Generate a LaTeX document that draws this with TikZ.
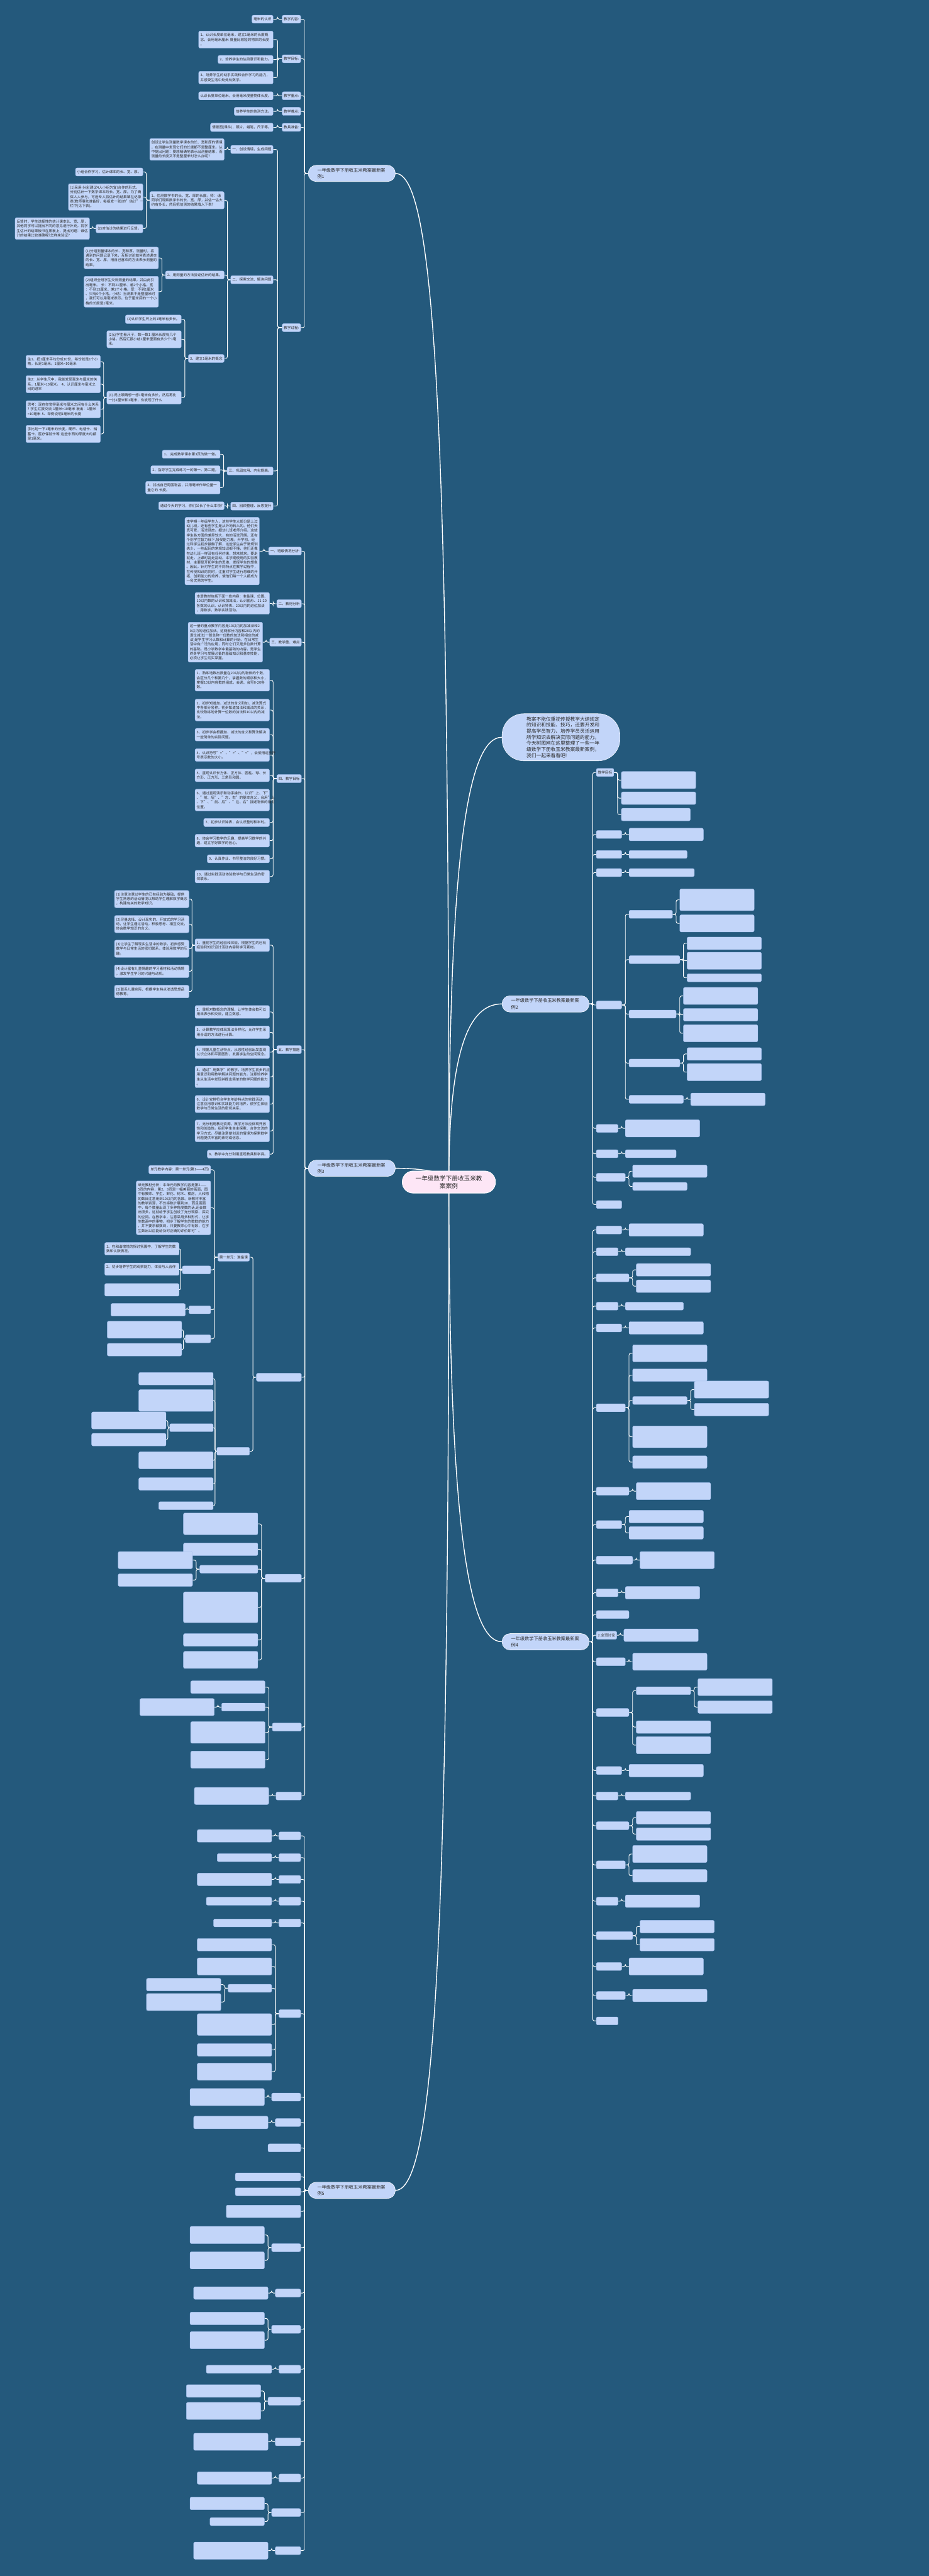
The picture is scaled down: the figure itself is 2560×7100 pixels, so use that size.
\documentclass[tikz,border=0pt]{standalone}
\usepackage{fontspec}
\setmainfont{Noto Sans CJK SC}
\usetikzlibrary{calc}
\definecolor{bgc}{HTML}{24597C}
\definecolor{leaff}{HTML}{C2D5F9}
\definecolor{leafd}{HTML}{A3BFEC}
\definecolor{cenf}{HTML}{FDE6F6}
\definecolor{txt}{HTML}{2A2A2A}
\pgfdeclarelayer{bg}\pgfdeclarelayer{edges}\pgfsetlayers{bg,edges,main}
\tikzset{
 leaf/.style={draw=leafd, line width=0.8pt, fill=leaff, rounded corners=4pt, inner xsep=4.5pt, inner ysep=6.5pt, font=\fontsize{9.8}{12.6}\selectfont, align=left, text=txt},
 wide/.style={text width=196pt},
 branch/.style={draw=white!85!leaff, line width=1pt, fill=leaff, rounded corners=22pt, minimum height=45pt, text width=190pt, inner xsep=25pt, align=left, font=\fontsize{12.5}{18}\selectfont, text=txt},
 intro/.style={draw=white!85!leaff, line width=1pt, fill=leaff, rounded corners=60pt, minimum height=130pt, minimum width=325pt, text width=190pt, inner xsep=67pt, align=left, font=\fontsize{13.4}{16.7}\selectfont, text=txt},
 cnode/.style={draw=white, line width=1.5pt, fill=cenf, rounded corners=30pt, minimum height=61pt, minimum width=257pt, text width=190pt, align=center, font=\fontsize{16.7}{21.7}\selectfont, text=txt},
 conn/.style={draw=white, line width=1.6pt, rounded corners=5pt},
 mainconn/.style={draw=white, line width=2.4pt},
}
\newcommand\LN[4]{\node[leaf,anchor=east] (#1) at (#2,#3) {#4};}
\newcommand\LW[4]{\node[leaf,wide,anchor=east] (#1) at (#2,#3) {#4};}
\newcommand\RN[4]{\node[leaf,anchor=west] (#1) at (#2,#3) {#4};}
\newcommand\BL[5]{\node[leaf,anchor=east,minimum width=#4pt,minimum height={22pt+12.6pt*(#5-1)}] (#1) at (#2,#3) {};}
\newcommand\BR[5]{\node[leaf,anchor=west,minimum width=#4pt,minimum height={22pt+12.6pt*(#5-1)}] (#1) at (#2,#3) {};}
\newcommand\EL[2]{\draw[conn] let \p1=(#1.west), \p2=(#2.east) in (\p1) -- ({(\x1+\x2)/2},\y1) |- (\p2);}
\newcommand\ER[2]{\draw[conn] let \p1=(#1.east), \p2=(#2.west) in (\p1) -- ({(\x1+\x2)/2},\y1) |- (\p2);}
\begin{document}
\begin{tikzpicture}[x=1pt,y=-1pt]
\begin{pgfonlayer}{bg}
\fill[bgc] (0,0) rectangle (2560,7100);
\end{pgfonlayer}
\useasboundingbox (0,0) rectangle (2560,7100);

% centre and main branches
\node[cnode] (c) at (1237,3258) {一年级数学下册收玉米教\\案案例};
\node[branch,anchor=east] (b1) at (1090,478) {一年级数学下册收玉米教案最新案\\例1};
\node[intro,anchor=west] (b0) at (1383,2032) {教案不能仅重视传授教学大纲规定\\的知识和技能、技巧，还要开发和\\提高学员智力、培养学员灵活运用\\所学知识去解决实际问题的能力。\\今天树图网在这里整理了一些一年\\级数学下册收玉米教案最新案例，\\我们一起来看看吧!};
\node[branch,anchor=west] (b2) at (1383,2767) {一年级数学下册收玉米教案最新案\\例2};
\node[branch,anchor=east] (b3) at (1090,3220) {一年级数学下册收玉米教案最新案\\例3};
\node[branch,anchor=west] (b4) at (1383,4525) {一年级数学下册收玉米教案最新案\\例4};
\node[branch,anchor=east] (b5) at (1090,6037) {一年级数学下册收玉米教案最新案\\例5};

% ---------- case 1 ----------
\LN{a1}{829}{53}{教学内容:}
\LN{a11}{753}{53}{毫米的认识}
\LN{a2}{829}{162}{教学目标:}
\LW{a21}{753}{109}{1、认识长度单位毫米，建立1毫米的长度概\\念，会用毫米厘米~度量比较短的物体的长度\\。}
\LN{a22}{753}{164}{2、培养学生的估测意识和能力。}
\LW{a23}{753}{214}{3、培养学生的动手实践和合作学习的能力，\\并感受生活中处处有数学。}
\LN{a3}{829}{264}{教学重点:}
\LN{a31}{753}{264}{认识长度单位毫米，会用毫米度量物体长度。}
\LN{a4}{829}{307}{教学难点:}
\LN{a41}{753}{307}{培养学生的估测方法。}
\LN{a5}{829}{351}{教具准备:}
\LN{a51}{753}{351}{情景图(课件)，照片，蜡笔，尺子等。}
\LN{a6}{829}{903}{教学过程:}
\LN{a61}{753}{412}{一、创设情境，生成问题}
\LW{a611}{618}{412}{创设让学生测量数学课本的长、宽和厚的情境\\，在测量中发现它们的长度都不是整厘米。从\\中提出问题：要想精确地表示出测量结果，而\\测量的长度又不是整厘米时怎么办呢?}
\LN{a62}{753}{771}{二、探索交流、解决问题}
\LW{a621}{618}{552}{1、估测数学书的长、宽、厚的长度。师：请\\同学们观察数学书的长、宽、厚，并估一估大\\约有多长，然后把估测的结果填入下表?}
\LN{a6211}{394}{474}{小组合作学习，估计课本的长、宽、厚。}
\LW{a6212}{394}{543}{(1)采用小组(建议4人小组为宜)合作的形式，\\分别估计一下数学课本的长、宽、厚。为了确\\保人人参与，可选专人将估计的结果填在记录\\表(教师事先准备好，每组发一张)的"估计"一\\栏中(见下表)。}
\LN{a6213}{394}{630}{(2)对估计的结果进行反馈。}
\LW{a62131}{247}{630}{反馈时，学生选择性的估计课本长、宽、厚，\\其他同学可以提出不同的意见进行补充。将学\\生估计的结果板书在黑板上，提出问题：谁估\\计的结果比较准确呢?怎样来验证?}
\LN{a622}{618}{758}{2、用测量的方法验证估计的结果。}
\LW{a6221}{437}{711}{(1)分组测量课本的长、宽和厚。测量时，将\\遇到的问题记录下来，互相讨论如何表述课本\\的长、宽、厚，用自己喜欢的方法表示测量的\\结果。}
\LW{a6222}{437}{804}{(2)组织全班学生交流测量的结果，并由此引\\出毫米。~长：不到21厘米、差2个小格。宽\\：不到15厘米、差2个小格。厚：不到1厘米\\、只有6个小格。小结：当测果不是整厘米时\\，我们可以用毫米表示。位于厘米间的一个小\\格的长度是1毫米。}
\LN{a623}{618}{988}{3、建立1毫米的概念}
\LN{a6231}{500}{880}{(1)认识学生尺上的1毫米有多长。}
\LW{a6232}{500}{935}{(2)让学生看尺子，数一数1~厘米长度有几个\\小格，然后汇报小结1厘米里面有多少个1毫\\米。}
\LW{a6233}{500}{1096}{(3).闭上眼睛想一想1毫米有多长，然后再比\\一比1厘米和1毫米，你发现了什么}
\LW{a62331}{277}{997}{生1、把1厘米平均分成10份，每份就是1个小\\格，长是1毫米。1厘米=10毫米}
\LW{a62332}{277}{1059}{生2：从学生尺中，我能发现毫米与厘米的关\\系，1厘米=10毫米。~4、认识厘米与毫米之\\间的进率}
\LW{a62333}{277}{1128}{思考：现在你觉得毫米与厘米之间有什么关系\\?~学生汇报交流~1厘米=10毫米~板出：1厘米\\=10毫米~5、举例说明1毫米的长度}
\LW{a62334}{277}{1196}{手比划一下1毫米的长度，硬币、电话卡、储\\蓄卡、医疗保险卡等~这些东西的厚度大约都\\是1毫米。}
\LN{a63}{753}{1298}{三、巩固应用、内化提高。}
\LN{a631}{607}{1252}{1、~完成数学课本第3页的做一做。}
\LN{a632}{607}{1295}{2、指导学生完成练习一的第一、第二题。}
\LW{a633}{607}{1344}{3、找出自己周围物品，并用毫米作单位量一\\量它的.长度。}
\LN{a64}{753}{1395}{四、回顾整理、反思提升}
\LN{a641}{618}{1394}{通过今天的学习，你们又长了什么本领?}

% ---------- case 3 ----------
\LN{c1}{831}{1519}{一、班级情况分析:}
\LW{c11}{715}{1519}{本学期一年级学生人，这些学生大部分是上过\\幼儿班，还有些学生是从外地转入的。他们天\\真可爱，活泼调皮。据幼儿班老师介绍，这些\\学生各方面的差异较大，有的活泼开朗，还有\\个别学生智力低下,接受能力差。开学初，经\\过和学生初步接触了解，这些学生由于常规训\\练少，一些起码的常规知识都不懂，他们还像\\在幼儿班一样没有任何约束，想来就来，要走\\就走，上课时乱走乱动。本学期使用的实验教\\材，主要是开拓学生的思维，发挥学生的想象\\。因此，针对学生的不同特点在教学过程中，\\在传授知识的同时，注重对学生进行思维的开\\拓，创新能力的培养，使他们每一个人都成为\\一名优秀的学生。}
\LN{c2}{831}{1664}{二、教材分析}
\LW{c21}{743}{1663}{本册教材包括下面一些内容：准备课、位置、\\10以内数的认识和加减法，认识图形、11-20\\各数的认识、认识钟表、20以内的进位加法\\，用数学，数学实践活动。}
\LN{c3}{831}{1770}{三、教学重、难点}
\LW{c31}{724}{1770}{这一册的重点教学内容是10以内的加减法和2\\0以内的进位加法。这两部分内容和20以内的\\退位减法(一般总称一位数的加法和相应的减\\法)是学生学习认数和计算的开始，在日常生\\活中有广泛的应用，同时它们又是多位数计算\\的基础，是小学数学中最基础的内容，是学生\\终身学习与发展必备的基础知识和基本技能，\\必须让学生切实掌握。}
\LN{c4}{831}{2146}{四、教学目标}
\LW{c41}{743}{1875}{1、熟练地数出数量在20以内的物体的个数，\\会区分几个和第几个，掌握数的顺序和大小，\\掌握10以内各数的组成，会读、会写0-20各\\数。}
\LW{c42}{743}{1957}{2、初步知道加、减法的含义和加、减法算式\\中各部分名称，初步知道加法和减法的关系，\\比较熟练地计算一位数的加法和10以内的减\\法。}
\LW{c43}{743}{2025}{3、初步学会根据加、减法的含义和算法解决\\一些简单的实际问题。}
\LW{c44}{743}{2081}{4、认识符号"="、">"、"<"，会使用这些符\\号表示数的大小。}
\LW{c45}{743}{2137}{5、直观认识长方体、正方体、圆柱、球、长\\方形、正方形、三角形和圆。}
\LW{c46}{743}{2205}{6、通过直观演示和动手操作，认识"上、下"\\、"前、后"、"左、右"的基本含义，会用"上\\、下"、"前、后"、"左、右"描述物体的相对\\位置。}
\LN{c47}{743}{2267}{7、初步认识钟表，会认识整时和半时。}
\LW{c48}{743}{2317}{8、体会学习数学的乐趣，提高学习数学的兴\\趣，建立学好数学的信心。}
\LN{c49}{743}{2367}{9、认真作业、书写整洁的良好习惯。}
\LW{c410}{743}{2416}{10、通过实践活动体验数学与日常生活的密\\切联系。}
\LN{c5}{831}{2893}{五、教学措施}
\LW{c51}{743}{2605}{1、重视学生的经验和体验，根据学生的已有\\经验和知识设计活动内容和学习素材。}
\LW{c511}{521}{2478}{(1)注意注意以学生的已有经验为基础，提供\\学生熟悉的活动情境以帮助学生理解数学概念\\，构建有关的数学知识。}
\LW{c512}{521}{2547}{(2)尽量选择、设计现实的、开放式的学习活\\动，让学生通过活动，积极思考、相互交流，\\体会数学知识的含义。}
\LW{c513}{521}{2615}{(3)让学生了解现实生活中的数学，初步感受\\数学与日常生活的密切联系，体验用数学的乐\\趣。}
\LW{c514}{521}{2677}{(4)设计富有儿童情趣的学习素材和活动情境\\，激发学生学习的兴趣与动机。}
\LW{c515}{521}{2733}{(5)联系儿童实际、根据学生特点渗透思想品\\德教育。}
\LW{c52}{743}{2789}{2、重视对数概念的理解，让学生体会数可以\\用来表示和交流，建立数感。}
\LW{c53}{743}{2845}{3、计算教学应体现算法多样化，允许学生采\\用合适的方法进行计算。}
\LW{c54}{743}{2900}{4、根据儿童生活特点，从感性经验出发直观\\认识立体和平面图形，发展学生的空间观念。}
\LW{c55}{743}{2968}{5、通过"用数学"的教学，培养学生初步的应\\用意识和用数学解决问题的能力。注意培养学\\生从生活中发现并提出简单的数学问题的能力\\。}
\LW{c56}{743}{3043}{6、设计安排符合学生年龄特点的实践活动，\\注意应用意识和实践能力的培养，使学生体验\\数学与日常生活的密切关系。}
\LW{c57}{743}{3117}{7、充分利用教材资源，教学方法应体现开放\\性和创造性。组织学生自主探索、合作交流的\\学习方式。尽量注意使创设的情境为探索数学\\问题提供丰富的素材或信息。}
\LN{c58}{743}{3181}{8、教学中充分利用直观教具和学具。}
% lower part of case 3
\BL{z1}{831}{3796}{124}{1}
\LN{z11}{688}{3465}{第一单元：准备课}
\LN{z111}{581}{3224}{单元教学内容：第一单元(第1——4页)}
\LW{z112}{581}{3329}{单元教材分析：本单元的教学内容是第2——\\5页的内容，第2、3页是一幅美丽的画面，图\\中有教师、学生、鲜花、树木、楼房，人和物\\的数目注意用到10以内的各数。新教材丰富\\的教学资源，不仅将数扩展到20，而且画面\\中，每个数量出现了多种角度数的话,还会数\\出很多，这就给予学生创设了充分观察、探究\\的空间。在教学中，注意采用多种形式，让学\\生数画中的事物，初步了解学生的数数的能力\\，并不要求都数到，只要教师心中有数，在学\\生数出以后能给及时正确的评价即可"。}
\BL{z113}{581}{3500}{78}{1}
\LW{z1131}{494}{3442}{1、在和谐愉悦的探讨氛围中，了解学生的数\\数和认数情况。}
\LW{z1132}{494}{3498}{2、初步培养学生的观察能力，体验与人合作\\\mbox{}}
\BL{z1133}{494}{3555}{205}{2}
\BL{z114}{581}{3610}{60}{1}
\BL{z1141}{511}{3610}{205}{2}
\BL{z115}{581}{3690}{70}{1}
\BL{z1151}{501}{3665}{205}{3}
\BL{z1152}{501}{3720}{205}{2}
\BL{z12}{688}{4000}{90}{1}
\BL{z121}{588}{3800}{205}{2}
\BL{z122}{588}{3860}{205}{4}
\BL{z123}{588}{3935}{120}{1}
\BL{z1231}{458}{3915}{205}{3}
\BL{z1232}{458}{3968}{205}{2}
\BL{z124}{588}{4025}{205}{3}
\BL{z125}{588}{4090}{205}{2}
\BL{z126}{588}{4150}{150}{1}
\BL{z2}{831}{4350}{100}{1}
\BL{z21}{711}{4200}{205}{4}
\BL{z22}{711}{4270}{205}{2}
\BL{z23}{711}{4325}{160}{1}
\BL{z231}{531}{4300}{205}{3}
\BL{z232}{531}{4355}{205}{2}
\BL{z24}{711}{4430}{205}{6}
\BL{z25}{711}{4520}{205}{2}
\BL{z26}{711}{4575}{205}{3}
\BL{z3}{831}{4760}{80}{1}
\BL{z31}{731}{4650}{205}{2}
\BL{z32}{731}{4705}{120}{1}
\BL{z321}{591}{4705}{205}{3}
\BL{z33}{731}{4775}{205}{4}
\BL{z34}{731}{4850}{205}{3}
\BL{z4}{831}{4950}{70}{1}
\BL{z41}{741}{4950}{205}{3}

% ---------- case 2 ----------
\RN{r1}{1643}{2129}{教学目标}
\BR{r1a}{1712}{2150}{205}{3}
\BR{r1b}{1712}{2200}{205}{2}
\BR{r1c}{1712}{2245}{190}{2}
\BR{r2}{1643}{2300}{70}{1}
\BR{r2a}{1733}{2300}{205}{2}
\BR{r3}{1643}{2355}{70}{1}
\BR{r3a}{1733}{2355}{160}{1}
\BR{r4}{1643}{2405}{70}{1}
\BR{r4a}{1733}{2405}{180}{1}
\BR{r5}{1643}{2770}{70}{1}
\BR{r5a}{1733}{2520}{120}{1}
\BR{r5a1}{1873}{2480}{205}{4}
\BR{r5a2}{1873}{2545}{205}{3}
\BR{r5b}{1733}{2645}{140}{1}
\BR{r5b1}{1893}{2600}{205}{2}
\BR{r5b2}{1893}{2648}{205}{3}
\BR{r5b3}{1893}{2695}{205}{1}
\BR{r5c}{1733}{2795}{130}{1}
\BR{r5c1}{1883}{2745}{205}{3}
\BR{r5c2}{1883}{2797}{205}{2}
\BR{r5c3}{1883}{2848}{205}{3}
\BR{r5d}{1733}{2930}{140}{1}
\BR{r5d1}{1893}{2905}{205}{2}
\BR{r5d2}{1893}{2955}{205}{3}
\BR{r5e}{1733}{3030}{150}{1}
\BR{r5e1}{1903}{3030}{205}{2}
\BR{r6}{1643}{3110}{60}{1}
\BR{r6a}{1723}{3110}{205}{3}
\BR{r7}{1643}{3180}{60}{1}
\BR{r7a}{1723}{3180}{140}{1}
\BR{r8}{1643}{3245}{80}{1}
\BR{r8a}{1743}{3228}{205}{2}
\BR{r8b}{1743}{3270}{150}{1}
\BR{r9}{1643}{3320}{70}{1}

% ---------- case 4 ----------
\BR{s1}{1643}{3390}{70}{1}
\BR{s1a}{1733}{3390}{205}{2}
\BR{s2}{1643}{3450}{60}{1}
\BR{s2a}{1723}{3450}{180}{1}
\BR{s3}{1643}{3522}{90}{1}
\BR{s3a}{1753}{3500}{205}{2}
\BR{s3b}{1753}{3545}{205}{2}
\BR{s4}{1643}{3600}{60}{1}
\BR{s4a}{1723}{3600}{160}{1}
\BR{s5}{1643}{3660}{70}{1}
\BR{s5a}{1733}{3660}{205}{2}
\BR{s6}{1643}{3880}{80}{1}
\BR{s6a}{1743}{3730}{205}{3}
\BR{s6b}{1743}{3790}{205}{2}
\BR{s6c}{1743}{3860}{150}{1}
\BR{s6c1}{1913}{3830}{205}{3}
\BR{s6c2}{1913}{3885}{205}{2}
\BR{s6d}{1743}{3960}{205}{4}
\BR{s6e}{1743}{4030}{205}{2}
\BR{s7}{1643}{4110}{90}{1}
\BR{s7a}{1753}{4110}{205}{3}
\BR{s8}{1643}{4202}{70}{1}
\BR{s8a}{1733}{4180}{205}{2}
\BR{s8b}{1733}{4225}{205}{2}
\BR{s9}{1643}{4300}{100}{1}
\BR{s9a}{1763}{4300}{205}{3}
\BR{s10}{1643}{4390}{60}{1}
\BR{s10a}{1723}{4390}{205}{2}
\BR{s11}{1643}{4450}{90}{1}
\RN{s12}{1643}{4507}{2.全班讨论}
\BR{s12a}{1719}{4507}{205}{2}
\BR{s13}{1643}{4580}{80}{1}
\BR{s13a}{1743}{4580}{205}{3}
\BR{s14}{1643}{4720}{90}{1}
\BR{s14a}{1753}{4660}{150}{1}
\BR{s14a1}{1923}{4650}{205}{3}
\BR{s14a2}{1923}{4705}{205}{2}
\BR{s14b}{1753}{4760}{205}{2}
\BR{s14c}{1753}{4810}{205}{3}
\BR{s15}{1643}{4880}{70}{1}
\BR{s15a}{1733}{4880}{205}{2}
\BR{s16}{1643}{4950}{60}{1}
\BR{s16a}{1723}{4950}{180}{1}
\BR{s17}{1643}{5032}{90}{1}
\BR{s17a}{1753}{5010}{205}{2}
\BR{s17b}{1753}{5055}{205}{2}
\BR{s18}{1643}{5140}{80}{1}
\BR{s18a}{1743}{5110}{205}{3}
\BR{s18b}{1743}{5170}{205}{2}
\BR{s19}{1643}{5240}{60}{1}
\BR{s19a}{1723}{5240}{205}{2}
\BR{s20}{1643}{5335}{100}{1}
\BR{s20a}{1763}{5310}{205}{2}
\BR{s20b}{1763}{5360}{205}{2}
\BR{s21}{1643}{5420}{70}{1}
\BR{s21a}{1733}{5420}{205}{3}
\BR{s22}{1643}{5500}{80}{1}
\BR{s22a}{1743}{5500}{205}{2}
\BR{s23}{1643}{5570}{60}{1}

% ---------- case 5 ----------
\BL{t1}{829}{5060}{60}{1}
\BL{t1a}{749}{5060}{205}{2}
\BL{t2}{829}{5120}{60}{1}
\BL{t2a}{749}{5120}{150}{1}
\BL{t3}{829}{5180}{60}{1}
\BL{t3a}{749}{5180}{205}{2}
\BL{t4}{829}{5240}{60}{1}
\BL{t4a}{749}{5240}{180}{1}
\BL{t5}{829}{5300}{60}{1}
\BL{t5a}{749}{5300}{160}{1}
\BL{t6}{829}{5550}{60}{1}
\BL{t6a}{749}{5360}{205}{2}
\BL{t6b}{749}{5420}{205}{3}
\BL{t6c}{749}{5480}{120}{1}
\BL{t6c1}{609}{5470}{205}{2}
\BL{t6c2}{609}{5518}{205}{3}
\BL{t6d}{749}{5580}{205}{4}
\BL{t6e}{749}{5650}{205}{2}
\BL{t6f}{749}{5710}{205}{3}
\BL{t7}{829}{5780}{80}{1}
\BL{t7a}{729}{5780}{205}{3}
\BL{t8}{829}{5850}{70}{1}
\BL{t8a}{739}{5850}{205}{2}
\BL{t9}{829}{5920}{90}{1}
\BL{t10}{829}{6000}{180}{1}
\BL{t11}{829}{6041}{180}{1}
\BL{t12}{829}{6095}{205}{2}
\BL{t13}{829}{6195}{80}{1}
\BL{t13a}{729}{6160}{205}{3}
\BL{t13b}{729}{6230}{205}{3}
\BL{t14}{829}{6320}{70}{1}
\BL{t14a}{739}{6320}{205}{2}
\BL{t15}{829}{6420}{80}{1}
\BL{t15a}{729}{6390}{205}{2}
\BL{t15b}{729}{6450}{205}{3}
\BL{t16}{829}{6530}{60}{1}
\BL{t16a}{749}{6530}{180}{1}
\BL{t17}{829}{6618}{90}{1}
\BL{t17a}{719}{6590}{205}{2}
\BL{t17b}{719}{6645}{205}{3}
\BL{t18}{829}{6730}{70}{1}
\BL{t18a}{739}{6730}{205}{3}
\BL{t19}{829}{6830}{60}{1}
\BL{t19a}{749}{6830}{205}{2}
\BL{t20}{829}{6925}{80}{1}
\BL{t20a}{729}{6900}{205}{2}
\BL{t20b}{729}{6950}{150}{1}
\BL{t21}{829}{7030}{70}{1}
\BL{t21a}{739}{7030}{205}{3}

\begin{pgfonlayer}{edges}
\draw[mainconn] (c.center) .. controls (1237,1200) and (1200,478) .. (b1.east);
\draw[mainconn] (c.center) .. controls (1237,2350) and (1290,2032) .. (b0.west);
\draw[mainconn] (c.center) .. controls (1237,2900) and (1290,2767) .. (b2.west);
\draw[mainconn] (c.center) .. controls (1237,3230) and (1160,3220) .. (b3.east);
\draw[mainconn] (c.center) .. controls (1237,4190) and (1290,4525) .. (b4.west);
\draw[mainconn] (c.center) .. controls (1237,5316) and (1200,6037) .. (b5.east);
% case 1
\foreach \k in {a1,a2,a3,a4,a5,a6}{\EL{b1}{\k}}
\EL{a1}{a11}
\foreach \k in {a21,a22,a23}{\EL{a2}{\k}}
\EL{a3}{a31}\EL{a4}{a41}\EL{a5}{a51}
\foreach \k in {a61,a62,a63,a64}{\EL{a6}{\k}}
\EL{a61}{a611}
\foreach \k in {a621,a622,a623}{\EL{a62}{\k}}
\foreach \k in {a6211,a6212,a6213}{\EL{a621}{\k}}
\EL{a6213}{a62131}
\foreach \k in {a6221,a6222}{\EL{a622}{\k}}
\foreach \k in {a6231,a6232,a6233}{\EL{a623}{\k}}
\foreach \k in {a62331,a62332,a62333,a62334}{\EL{a6233}{\k}}
\foreach \k in {a631,a632,a633}{\EL{a63}{\k}}
\EL{a64}{a641}
% case 3
\foreach \k in {c1,c2,c3,c4,c5,z1,z2,z3,z4}{\EL{b3}{\k}}
\EL{c1}{c11}\EL{c2}{c21}\EL{c3}{c31}
\foreach \k in {c41,c42,c43,c44,c45,c46,c47,c48,c49,c410}{\EL{c4}{\k}}
\foreach \k in {c51,c52,c53,c54,c55,c56,c57,c58}{\EL{c5}{\k}}
\foreach \k in {c511,c512,c513,c514,c515}{\EL{c51}{\k}}
\foreach \k in {z11,z12}{\EL{z1}{\k}}
\foreach \k in {z111,z112,z113,z114,z115}{\EL{z11}{\k}}
\foreach \k in {z1131,z1132,z1133}{\EL{z113}{\k}}
\EL{z114}{z1141}
\foreach \k in {z1151,z1152}{\EL{z115}{\k}}
\foreach \k in {z121,z122,z123,z124,z125,z126}{\EL{z12}{\k}}
\foreach \k in {z1231,z1232}{\EL{z123}{\k}}
\foreach \k in {z21,z22,z23,z24,z25,z26}{\EL{z2}{\k}}
\foreach \k in {z231,z232}{\EL{z23}{\k}}
\foreach \k in {z31,z32,z33,z34}{\EL{z3}{\k}}
\EL{z32}{z321}
\EL{z4}{z41}
% case 2
\foreach \k in {r1,r2,r3,r4,r5,r6,r7,r8,r9}{\ER{b2}{\k}}
\foreach \k in {r1a,r1b,r1c}{\ER{r1}{\k}}
\ER{r2}{r2a}\ER{r3}{r3a}\ER{r4}{r4a}
\foreach \k in {r5a,r5b,r5c,r5d,r5e}{\ER{r5}{\k}}
\foreach \k in {r5a1,r5a2}{\ER{r5a}{\k}}
\foreach \k in {r5b1,r5b2,r5b3}{\ER{r5b}{\k}}
\foreach \k in {r5c1,r5c2,r5c3}{\ER{r5c}{\k}}
\foreach \k in {r5d1,r5d2}{\ER{r5d}{\k}}
\ER{r5e}{r5e1}\ER{r6}{r6a}\ER{r7}{r7a}
\foreach \k in {r8a,r8b}{\ER{r8}{\k}}
% case 4
\foreach \k in {s1,s2,s3,s4,s5,s6,s7,s8,s9,s10,s11,s12,s13,s14,s15,s16,s17,s18,s19,s20,s21,s22,s23}{\ER{b4}{\k}}
\ER{s1}{s1a}\ER{s2}{s2a}\ER{s4}{s4a}\ER{s5}{s5a}\ER{s7}{s7a}\ER{s9}{s9a}\ER{s10}{s10a}
\ER{s12}{s12a}\ER{s13}{s13a}\ER{s15}{s15a}\ER{s16}{s16a}\ER{s19}{s19a}\ER{s21}{s21a}\ER{s22}{s22a}
\foreach \k in {s3a,s3b}{\ER{s3}{\k}}
\foreach \k in {s6a,s6b,s6c,s6d,s6e}{\ER{s6}{\k}}
\foreach \k in {s6c1,s6c2}{\ER{s6c}{\k}}
\foreach \k in {s8a,s8b}{\ER{s8}{\k}}
\foreach \k in {s14a,s14b,s14c}{\ER{s14}{\k}}
\foreach \k in {s14a1,s14a2}{\ER{s14a}{\k}}
\foreach \k in {s17a,s17b}{\ER{s17}{\k}}
\foreach \k in {s18a,s18b}{\ER{s18}{\k}}
\foreach \k in {s20a,s20b}{\ER{s20}{\k}}
% case 5
\foreach \k in {t1,t2,t3,t4,t5,t6,t7,t8,t9,t10,t11,t12,t13,t14,t15,t16,t17,t18,t19,t20,t21}{\EL{b5}{\k}}
\EL{t1}{t1a}\EL{t2}{t2a}\EL{t3}{t3a}\EL{t4}{t4a}\EL{t5}{t5a}\EL{t7}{t7a}\EL{t8}{t8a}
\EL{t14}{t14a}\EL{t16}{t16a}\EL{t18}{t18a}\EL{t19}{t19a}\EL{t21}{t21a}
\foreach \k in {t6a,t6b,t6c,t6d,t6e,t6f}{\EL{t6}{\k}}
\foreach \k in {t6c1,t6c2}{\EL{t6c}{\k}}
\foreach \k in {t13a,t13b}{\EL{t13}{\k}}
\foreach \k in {t15a,t15b}{\EL{t15}{\k}}
\foreach \k in {t17a,t17b}{\EL{t17}{\k}}
\foreach \k in {t20a,t20b}{\EL{t20}{\k}}
\end{pgfonlayer}
\end{tikzpicture}
\end{document}
